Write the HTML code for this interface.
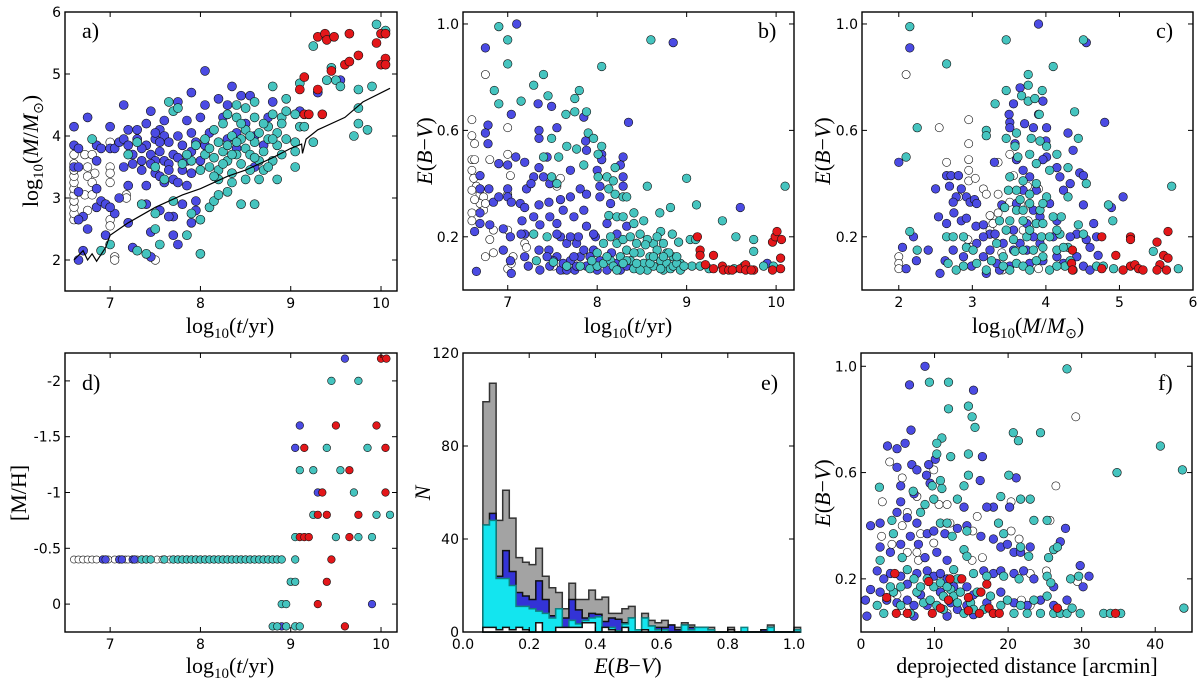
<!DOCTYPE html>
<html><head><meta charset="utf-8"><style>
html,body{margin:0;padding:0;background:#fff}
svg{display:block}
.tk{font-family:"DejaVu Sans","Liberation Sans",sans-serif;font-size:14px;fill:#000}
.ttl{font-family:"Liberation Serif",serif;font-size:22px;fill:#000}
.lt{font-family:"Liberation Serif",serif;font-size:22px;fill:#000}
</style></head><body>
<svg id="chart" width="1200" height="683" viewBox="0 0 1200 683" xmlns="http://www.w3.org/2000/svg"></svg>
<script>
// ---------- DATA ----------
const aWhite=[[6.6,2.65],[6.6,2.75],[6.6,2.85],[6.6,2.95],[6.6,3.05],[6.6,3.15],[6.6,3.25],[6.6,3.35],[6.6,3.45],[6.6,3.55],[6.6,3.7],[6.72,3.7],[6.8,3.7],[6.75,3.5],[6.83,3.4],[6.75,3.35],[6.8,3.25],[6.72,3.05],[6.8,3.05],[7.0,3.9],[7.0,3.5],[7.0,3.4],[7.0,3.25],[7.18,3.05],[7.18,3.0],[7.0,2.65],[7.0,2.55],[7.05,2.05],[7.05,2.0],[7.5,2.0],[6.75,2.8]];
const aBlue=[[6.6,4.15],[6.6,3.85],[6.65,3.8],[6.6,3.5],[6.65,3.5],[6.65,3.1],[6.7,2.7],[6.65,2.65],[6.75,2.5],[6.75,4.3],[6.85,3.85],[6.85,3.6],[6.9,3.8],[6.85,3.15],[6.85,2.85],[6.9,2.95],[6.95,2.9],[6.95,2.4],[6.7,2.15],[6.65,2.0],[7.0,4.15],[7.0,3.8],[7.05,3.8],[7.1,3.9],[7.15,4.5],[7.15,3.95],[7.15,3.5],[7.1,3.0],[7.05,2.75],[7.0,2.85],[7.2,4.1],[7.2,3.85],[7.25,3.7],[7.25,3.55],[7.2,3.2],[7.3,3.95],[7.3,4.1],[7.35,3.6],[7.35,3.45],[7.4,3.85],[7.4,3.2],[7.4,2.9],[7.4,4.2],[7.45,4.4],[7.45,3.7],[7.5,3.95],[7.5,3.6],[7.5,3.4],[7.55,4.1],[7.55,3.75],[7.55,3.35],[7.6,4.0],[7.6,3.6],[7.6,3.25],[7.6,4.25],[7.65,3.9],[7.65,3.55],[7.7,3.7],[7.7,3.3],[7.7,2.7],[7.75,4.55],[7.75,4.0],[7.75,3.65],[7.75,3.25],[7.8,3.85],[7.8,3.45],[7.8,2.9],[7.85,4.25],[7.85,3.6],[7.85,3.2],[7.9,4.7],[7.9,4.05],[7.9,3.75],[7.9,3.4],[7.95,3.9],[7.95,2.95],[8.0,4.3],[8.0,3.6],[8.05,5.05],[8.05,4.5],[8.05,3.85],[8.1,4.05],[8.2,4.6],[8.25,4.3],[8.3,4.5],[8.3,3.95],[8.35,4.8],[8.4,4.05],[8.4,3.8],[8.45,4.65],[8.5,4.2],[8.55,4.65],[8.6,4.0],[8.6,3.5],[8.7,3.85],[8.75,4.3],[8.8,4.55],[7.2,2.6],[7.25,2.2],[7.45,2.45],[7.45,2.05],[7.7,2.4],[7.75,2.25],[7.65,2.7],[7.9,2.6],[7.55,2.8],[7.95,2.8],[9.1,4.4],[9.55,4.9],[9.3,4.7],[7.5,4.05],[7.35,3.8],[7.45,3.55],[7.65,3.45],[7.55,3.9]];
const aCyan=[[6.8,3.95],[7.0,2.25],[6.9,2.15],[7.3,2.15],[7.4,2.1],[7.35,2.9],[7.5,2.75],[7.5,2.5],[7.55,2.25],[7.7,2.95],[7.85,2.4],[7.9,2.75],[8.0,2.65],[8.0,2.1],[8.1,2.85],[8.15,2.95],[8.2,3.05],[8.3,3.1],[8.45,2.9],[8.6,2.9],[8.85,3.3],[9.05,3.5],[9.05,3.75],[9.05,3.9],[9.1,4.15],[9.15,4.15],[9.25,3.9],[9.1,4.85],[9.25,5.45],[9.4,4.9],[9.45,5.1],[9.5,4.9],[9.55,4.8],[9.7,4.0],[9.75,4.2],[9.75,4.45],[9.75,4.75],[9.85,4.1],[9.9,4.8],[9.95,5.8],[10.05,5.7],[7.65,4.55],[7.7,4.4],[7.75,4.45],[8.8,4.8],[8.95,4.6],[9.05,4.35],[8.9,4.3],[7.3,3.9],[7.5,3.5],[7.6,3.3],[7.8,3.55],[7.2,3.7],[8.05,3.7],[8.05,3.95],[8.1,3.5],[8.1,3.8],[8.15,4.1],[8.15,3.65],[8.2,3.9],[8.2,3.45],[8.25,3.75],[8.25,4.2],[8.3,3.6],[8.3,3.85],[8.35,3.4],[8.35,4.0],[8.4,3.7],[8.4,4.3],[8.45,3.55],[8.45,3.95],[8.5,3.8],[8.5,4.1],[8.55,3.45],[8.55,3.7],[8.6,3.9],[8.6,4.3],[8.65,3.6],[8.65,4.05],[8.7,3.75],[8.7,3.45],[8.75,3.95],[8.75,4.15],[8.8,3.6],[8.8,4.35],[8.85,3.85],[8.85,4.05],[8.9,3.7],[8.9,4.2],[8.5,3.3],[8.35,3.25],[8.2,3.3],[8.6,4.55],[8.5,4.45],[8.4,4.5],[8.3,4.35],[8.95,3.95],[8.95,4.4],[8.65,3.3],[8.75,3.5],[8.15,3.35],[7.9,3.6],[7.95,3.85],[8.0,3.45],[7.85,3.7],[8.45,4.2],[8.55,4.0],[8.7,4.2],[8.8,3.95],[8.25,3.55],[8.35,3.7],[8.6,3.65],[8.4,3.9]];
const aRed=[[9.3,5.6],[9.38,5.65],[9.4,5.55],[9.48,5.6],[9.65,5.65],[10.0,5.65],[10.05,5.65],[9.95,5.5],[9.6,5.15],[9.65,5.2],[9.75,5.3],[10.05,5.25],[10.0,5.15],[10.05,5.15],[9.45,5.05],[9.15,4.95],[9.1,4.75],[9.3,4.75],[9.15,4.35],[9.2,4.35],[9.35,4.35]];
const limitAge=[6.6,6.7,6.75,6.8,6.85,6.95,7.0,7.2,7.5,7.8,8.0,8.3,8.5,8.8,9.0,9.12,9.13,9.17,9.3,9.6,9.8,10.1];
const limitMass=[2.0,2.15,2.0,2.1,1.98,2.2,2.4,2.6,2.85,3.05,3.15,3.35,3.45,3.65,3.8,3.87,3.72,3.95,4.1,4.3,4.55,4.77];
const bWhite=[[6.75,0.81],[6.6,0.64],[6.6,0.58],[6.63,0.55],[7.0,0.61],[7.0,0.51],[6.8,0.49],[6.6,0.49],[6.63,0.49],[6.6,0.45],[6.62,0.42],[7.03,0.43],[7.0,0.36],[6.65,0.39],[6.69,0.36],[6.73,0.35],[6.69,0.325],[6.73,0.3],[6.6,0.29],[6.6,0.26],[6.75,0.325],[6.84,0.225],[6.8,0.19],[6.75,0.125],[6.84,0.14],[7.0,0.08],[7.04,0.1],[7.06,0.125],[7.19,0.175],[7.21,0.16],[7.51,0.09],[7.62,0.075],[7.59,0.42],[7.55,0.39],[6.6,0.375],[6.63,0.34],[7.0,0.225]];
const bBlue=[[7.1,1.0],[6.75,0.91],[8.85,0.93],[8.35,0.63],[7.04,0.66],[7.34,0.7],[7.49,0.69],[7.55,0.61],[7.85,0.65],[7.35,0.6],[7.35,0.57],[6.78,0.62],[6.75,0.59],[6.78,0.55],[7.09,0.5],[7.19,0.48],[6.9,0.475],[7.0,0.47],[7.35,0.46],[7.44,0.5],[7.29,0.425],[7.4,0.425],[7.7,0.45],[7.87,0.56],[7.88,0.525],[8.0,0.45],[8.05,0.51],[8.05,0.49],[8.29,0.5],[8.26,0.47],[8.29,0.425],[8.29,0.39],[6.69,0.43],[6.69,0.38],[6.79,0.38],[6.84,0.33],[6.9,0.35],[7.0,0.38],[7.0,0.35],[7.04,0.33],[7.14,0.325],[7.19,0.31],[7.21,0.38],[7.26,0.4],[7.35,0.32],[7.46,0.33],[7.47,0.4],[7.59,0.34],[7.7,0.35],[7.81,0.38],[7.88,0.36],[8.03,0.39],[8.03,0.35],[8.15,0.325],[6.69,0.25],[6.69,0.29],[6.8,0.245],[6.63,0.22],[6.95,0.23],[7.16,0.26],[7.19,0.21],[7.29,0.275],[7.36,0.245],[7.47,0.275],[7.55,0.25],[7.62,0.3],[7.74,0.275],[7.85,0.3],[7.88,0.24],[8.11,0.25],[8.22,0.21],[8.33,0.24],[7.98,0.2],[7.03,0.2],[7.15,0.21],[6.95,0.15],[7.03,0.11],[7.19,0.125],[7.23,0.09],[7.35,0.15],[7.36,0.075],[7.46,0.15],[7.59,0.2],[7.66,0.175],[7.77,0.175],[7.47,0.09],[7.55,0.125],[7.59,0.075],[7.7,0.11],[7.75,0.075],[7.81,0.125],[7.88,0.09],[7.96,0.15],[8.03,0.11],[8.11,0.075],[8.16,0.14],[8.22,0.1],[8.26,0.075],[8.33,0.09],[7.04,0.0625],[6.65,0.07],[7.55,0.21],[7.7,0.2],[7.79,0.2],[7.96,0.21],[9.6,0.31],[9.9,0.1],[7.51,0.11],[7.62,0.1],[7.74,0.125],[7.85,0.15],[7.92,0.125],[8.0,0.075],[7.77,0.09],[7.66,0.075],[7.44,0.125]];
const bCyan=[[6.9,0.99],[7.0,0.94],[7.0,0.85],[7.4,0.81],[7.29,0.77],[7.15,0.71],[6.9,0.7],[6.85,0.75],[7.45,0.73],[7.8,0.75],[7.75,0.72],[7.75,0.67],[7.88,0.67],[7.65,0.66],[8.05,0.84],[8.6,0.94],[7.9,0.59],[7.96,0.57],[7.49,0.57],[7.66,0.54],[7.77,0.53],[8.05,0.54],[8.01,0.51],[7.57,0.5],[7.4,0.5],[7.85,0.47],[8.01,0.425],[8.11,0.425],[8.2,0.46],[8.18,0.41],[8.13,0.38],[8.2,0.36],[8.29,0.35],[8.33,0.35],[8.56,0.39],[9.0,0.42],[9.11,0.32],[8.82,0.31],[8.7,0.29],[8.41,0.29],[8.13,0.28],[8.22,0.275],[8.29,0.275],[8.41,0.25],[8.52,0.26],[8.71,0.22],[8.84,0.21],[8.91,0.18],[9.04,0.19],[9.1,0.19],[9.4,0.26],[9.55,0.2],[9.75,0.19],[9.75,0.145],[10.1,0.39],[9.86,0.09],[9.97,0.09],[9.64,0.09],[9.53,0.08],[9.06,0.09],[9.15,0.09],[9.25,0.08],[8.93,0.1],[8.85,0.125],[8.78,0.14],[8.63,0.175],[7.92,0.08],[8.0,0.09],[8.07,0.1],[8.15,0.11],[8.18,0.09],[8.26,0.125],[8.33,0.15],[8.37,0.11],[8.41,0.08],[8.44,0.175],[8.48,0.14],[8.52,0.1],[8.56,0.075],[8.59,0.125],[8.63,0.09],[8.67,0.15],[8.71,0.11],[8.74,0.075],[8.78,0.1],[8.82,0.08],[8.85,0.09],[8.89,0.1],[8.93,0.075],[8.97,0.09],[8.22,0.175],[8.29,0.19],[8.37,0.2],[8.48,0.21],[8.56,0.19],[8.67,0.2],[8.15,0.2],[8.07,0.175],[8.0,0.14],[7.94,0.11],[8.41,0.14],[8.54,0.17],[8.74,0.175],[8.8,0.14],[8.33,0.11],[8.48,0.075],[8.71,0.08],[7.49,0.425],[7.55,0.4],[7.29,0.21],[7.44,0.2],[7.32,0.11],[7.51,0.105],[7.66,0.09],[7.81,0.09],[8.22,0.075],[8.29,0.1],[8.44,0.1],[8.59,0.1],[8.11,0.125],[8.74,0.125],[8.63,0.125],[8.89,0.125]];
const bRed=[[9.12,0.2],[9.15,0.15],[9.15,0.13],[9.3,0.13],[9.21,0.095],[9.3,0.08],[9.4,0.09],[9.41,0.075],[9.47,0.075],[9.51,0.075],[9.6,0.08],[9.66,0.095],[9.66,0.075],[9.75,0.075],[9.96,0.075],[10.05,0.08],[10.05,0.12],[9.96,0.18],[9.99,0.2],[10.01,0.22],[10.06,0.19],[9.72,0.075]];
const cWhite=[[2.1,0.81],[2.55,0.61],[2.95,0.64],[2.65,0.48],[2.95,0.55],[2.95,0.49],[2.95,0.45],[2.95,0.41],[3.04,0.42],[2.81,0.35],[3.15,0.38],[3.19,0.36],[3.35,0.48],[3.35,0.36],[3.51,0.51],[3.56,0.43],[3.51,0.33],[3.24,0.28],[3.35,0.29],[3.24,0.225],[3.28,0.25],[3.75,0.39],[3.9,0.38],[3.76,0.32],[3.76,0.26],[2.0,0.125],[2.0,0.1],[2.0,0.08],[2.94,0.19],[2.99,0.16],[3.4,0.14],[3.69,0.225],[3.9,0.08],[3.41,0.075]];
const cBlue=[[2.15,0.91],[3.9,1.0],[4.55,0.93],[4.8,0.63],[2.0,0.48],[2.5,0.38],[2.65,0.43],[2.71,0.43],[2.81,0.43],[2.69,0.39],[2.85,0.38],[2.78,0.35],[2.74,0.33],[2.92,0.35],[2.97,0.33],[3.03,0.34],[3.06,0.325],[2.75,0.29],[2.54,0.275],[2.65,0.25],[2.85,0.26],[2.92,0.27],[3.05,0.24],[3.15,0.245],[3.24,0.21],[3.3,0.48],[3.4,0.32],[3.56,0.7],[3.5,0.66],[3.51,0.63],[3.51,0.61],[3.58,0.55],[3.65,0.76],[3.71,0.625],[3.83,0.61],[3.96,0.71],[3.9,0.66],[4.01,0.61],[4.0,0.56],[4.01,0.5],[4.15,0.46],[4.19,0.425],[4.24,0.375],[4.33,0.4],[4.3,0.59],[4.46,0.44],[4.51,0.43],[4.51,0.32],[4.65,0.25],[4.37,0.525],[5.05,0.35],[4.89,0.31],[4.42,0.21],[4.55,0.19],[4.6,0.16],[4.69,0.2],[4.71,0.13],[4.33,0.2],[4.15,0.26],[4.05,0.325],[3.92,0.275],[3.83,0.2],[3.74,0.25],[3.65,0.175],[3.56,0.225],[3.42,0.175],[3.24,0.15],[3.15,0.125],[3.06,0.175],[2.99,0.09],[2.88,0.125],[2.74,0.15],[2.63,0.11],[2.56,0.0625],[2.4,0.15],[2.24,0.11],[2.2,0.2],[2.05,0.16],[2.1,0.08],[3.19,0.0625],[3.37,0.075],[3.33,0.1],[3.51,0.09],[3.78,0.1],[3.96,0.11],[4.15,0.125],[4.24,0.1],[4.51,0.09],[4.42,0.125],[4.6,0.075],[3.87,0.375],[3.78,0.425],[3.69,0.45],[3.6,0.49],[3.96,0.49],[3.15,0.2],[3.31,0.21],[3.56,0.15],[3.74,0.15],[3.92,0.175],[4.1,0.2],[3.83,0.3],[3.6,0.325],[3.69,0.375]];
const cCyan=[[2.15,0.99],[2.65,0.85],[3.46,0.94],[4.1,0.84],[4.51,0.94],[2.25,0.61],[2.1,0.5],[3.31,0.7],[3.46,0.75],[3.76,0.81],[3.76,0.77],[3.67,0.73],[3.76,0.71],[3.85,0.72],[3.95,0.75],[3.91,0.66],[4.39,0.67],[4.44,0.57],[3.19,0.6],[3.19,0.58],[3.46,0.57],[3.6,0.59],[3.58,0.54],[3.8,0.57],[3.92,0.56],[4.01,0.54],[4.15,0.51],[3.62,0.5],[3.78,0.51],[3.87,0.475],[4.05,0.45],[4.3,0.46],[4.55,0.4],[4.3,0.35],[4.85,0.32],[4.91,0.26],[5.71,0.39],[2.15,0.22],[2.25,0.15],[2.65,0.2],[2.74,0.2],[2.67,0.1],[2.88,0.2],[2.78,0.075],[2.92,0.16],[3.01,0.15],[3.19,0.075],[3.26,0.11],[3.33,0.175],[3.37,0.26],[3.44,0.31],[3.46,0.225],[3.49,0.375],[3.58,0.145],[3.6,0.3],[3.65,0.34],[3.69,0.26],[3.74,0.2],[3.78,0.325],[3.83,0.15],[3.87,0.25],[3.92,0.3],[3.94,0.2],[3.96,0.125],[4.01,0.35],[4.05,0.2],[4.1,0.275],[4.15,0.15],[4.19,0.21],[4.21,0.275],[4.26,0.09],[4.3,0.16],[4.37,0.075],[4.44,0.245],[4.51,0.21],[4.69,0.09],[4.78,0.09],[4.92,0.08],[5.46,0.145],[5.8,0.08],[3.51,0.075],[3.6,0.1],[3.69,0.09],[3.78,0.075],[3.87,0.11],[3.69,0.15],[3.56,0.19],[3.42,0.125],[4.05,0.075],[4.15,0.09],[3.51,0.425],[3.69,0.41],[3.87,0.4],[3.6,0.375],[3.78,0.36],[3.96,0.325],[3.69,0.3],[3.51,0.26],[3.78,0.225],[3.96,0.25],[4.15,0.225],[3.96,0.16],[4.24,0.16],[4.33,0.11],[3.42,0.09],[3.06,0.1],[2.88,0.09]];
const cRed=[[4.36,0.15],[4.35,0.1],[4.36,0.075],[4.76,0.2],[4.76,0.08],[4.95,0.13],[5.15,0.2],[5.15,0.19],[5.05,0.075],[5.15,0.09],[5.21,0.095],[5.26,0.08],[5.32,0.075],[5.51,0.18],[5.6,0.13],[5.66,0.12],[5.66,0.22],[5.55,0.095],[5.51,0.075],[5.64,0.075]];
const dWhite=[[6.6,-0.4],[6.65,-0.4],[6.7,-0.4],[6.75,-0.4],[6.8,-0.4],[6.85,-0.4],[6.98,-0.4],[7.05,-0.4],[7.17,-0.4],[7.2,-0.4],[7.3,-0.4],[7.52,-0.4],[7.58,-0.4],[7.66,-0.4]];
const dBlue=[[6.92,-0.4],[6.95,-0.4],[7.1,-0.4],[7.13,-0.4],[7.25,-0.4],[7.27,-0.4],[9.6,-2.2],[9.1,-1.6],[9.05,-1.4],[9.3,-1.0],[9.9,0],[8.9,0.2]];
const dCyan=[[7.35,-0.4],[7.4,-0.4],[7.45,-0.4],[7.6,-0.4],[7.7,-0.4],[7.75,-0.4],[7.8,-0.4],[7.85,-0.4],[7.9,-0.4],[7.95,-0.4],[8.0,-0.4],[8.05,-0.4],[8.1,-0.4],[8.15,-0.4],[8.2,-0.4],[8.25,-0.4],[8.3,-0.4],[8.35,-0.4],[8.4,-0.4],[8.45,-0.4],[8.5,-0.4],[8.55,-0.4],[8.6,-0.4],[8.65,-0.4],[8.7,-0.4],[8.75,-0.4],[8.8,-0.4],[8.85,-0.4],[8.9,-0.4],[9.45,-2],[9.75,-2],[9.4,-1.4],[9.85,-1.4],[9.1,-1.2],[9.25,-1.2],[9.55,-1.2],[9.7,-1.0],[9.25,-0.8],[9.95,-0.8],[10.1,-0.8],[9.05,-0.6],[9.5,-0.6],[9.75,-0.6],[9.9,-0.6],[9.05,-0.4],[9.0,-0.2],[9.05,-0.2],[8.9,0],[8.95,0],[8.8,0.2],[8.85,0.2],[8.95,0.2],[9.05,0.2],[9.1,0.2]];
const dRed=[[10.0,-2.2],[10.06,-2.2],[9.5,-1.6],[9.95,-1.6],[9.15,-1.4],[10.05,-1.4],[9.65,-1.2],[9.35,-1.0],[10.05,-1.0],[9.3,-0.8],[9.4,-0.8],[9.75,-0.8],[9.1,-0.6],[9.15,-0.6],[9.2,-0.6],[9.65,-0.6],[9.45,-0.4],[9.4,-0.2],[9.3,0],[9.6,0.2]];
const binStart=0.06, binWidth=0.02;
const histAll=[99,107,48,61,49,32,30,29,36,24,19,17,10,21,14,14,18,14,15,8,8,10,11,1,8,5,4,5,3,2,4,3,2,2,2,0,0,2,0,0,0,0,1,3,0,0,0,2];
const histBlue=[46,51,24,35,26,17,15.5,14,22,14,7,10,6,14,9.5,6,8,7.6,4.5,6,5.5,4,6,1,6,2.6,2,2,3,1,3,2,2,2,1,0,0,1,0,0,0,0,1,2,0,0,0,1];
const histCyan=[46,48,23,23,20,11,11,10,9,8,6,10,2,5,3.5,5,6,6.5,2,2,0.5,3.5,6,1,6,2.6,1,1,0,0,3,1,2,2,1,0,0,0,0,2,0,0,0,2,0,0,0,1];
const histWhite=[2,2,1,2,1,2,1,0,4,0,0,2,2,2,2,4,4,0,2,1,0,2,0,0,1,0,0,0,0,0,0,0,0,0,0,0,0,1,0,0,0,0,0,0,0,0,0,0];
const fWhite=[[29.2,0.81],[3.9,0.64],[9.9,0.61],[5.6,0.58],[2.9,0.49],[7.6,0.51],[6.3,0.45],[10.6,0.48],[11.7,0.48],[15.8,0.435],[15.2,0.38],[12.1,0.41],[2.8,0.36],[5.6,0.4],[4.2,0.33],[8.1,0.37],[9.9,0.335],[6.3,0.3],[7.6,0.3],[7.8,0.27],[16.5,0.28],[20.4,0.49],[20.4,0.38],[21.5,0.35],[25.7,0.42],[26.5,0.55],[25.2,0.23],[29.4,0.19],[23.0,0.22],[23.0,0.1],[21.8,0.12],[19.9,0.12],[4.9,0.14],[5.6,0.08],[11.0,0.17],[11.7,0.07],[15.1,0.27]];
const fBlue=[[8.7,1.0],[6.6,0.93],[15.3,0.91],[6.8,0.76],[3.6,0.7],[4.9,0.69],[6.0,0.71],[16.5,0.66],[6.9,0.63],[7.6,0.61],[9.2,0.63],[10.1,0.65],[4.9,0.62],[8.9,0.59],[9.4,0.56],[5.4,0.55],[7.2,0.52],[5.4,0.49],[16.2,0.57],[21.1,0.58],[20.2,0.47],[18.0,0.47],[17.1,0.47],[14.0,0.47],[2.6,0.41],[1.3,0.4],[4.9,0.45],[6.3,0.43],[7.6,0.41],[9.0,0.37],[9.9,0.38],[11.4,0.37],[13.1,0.39],[14.4,0.4],[16.3,0.36],[18.0,0.35],[19.0,0.32],[19.9,0.33],[20.8,0.3],[21.7,0.3],[23.0,0.32],[27.1,0.34],[27.8,0.39],[2.6,0.32],[4.0,0.3],[5.4,0.33],[6.7,0.36],[7.8,0.33],[8.7,0.28],[10.3,0.3],[11.7,0.27],[2.2,0.23],[3.1,0.2],[4.0,0.22],[5.4,0.21],[6.3,0.18],[7.6,0.22],[9.0,0.23],[9.9,0.21],[10.8,0.22],[11.7,0.2],[12.6,0.17],[13.5,0.2],[14.4,0.17],[16.7,0.23],[18.0,0.22],[19.0,0.23],[20.8,0.22],[22.1,0.23],[23.5,0.2],[26.2,0.17],[29.8,0.25],[31.0,0.21],[30.2,0.17],[0.6,0.12],[0.8,0.06],[1.3,0.16],[2.6,0.15],[3.5,0.12],[4.9,0.11],[6.3,0.12],[7.2,0.1],[8.1,0.14],[9.0,0.1],[10.8,0.15],[12.2,0.11],[13.1,0.085],[14.4,0.1],[15.3,0.14],[17.1,0.11],[19.0,0.15],[20.8,0.11],[22.6,0.1],[24.4,0.12],[26.2,0.1],[28.0,0.12],[11.7,0.06],[15.3,0.065],[7.2,0.06]];
const fCyan=[[28.0,0.99],[9.3,0.94],[11.9,0.94],[11.9,0.84],[14.6,0.85],[15.1,0.81],[15.5,0.77],[20.7,0.75],[24.4,0.75],[21.4,0.72],[40.7,0.7],[43.7,0.61],[34.8,0.6],[11.0,0.73],[10.3,0.71],[10.3,0.67],[12.2,0.66],[14.6,0.67],[10.8,0.57],[9.7,0.55],[11.0,0.54],[14.6,0.59],[14.0,0.55],[20.1,0.59],[19.0,0.51],[21.7,0.5],[23.0,0.5],[23.5,0.42],[25.3,0.42],[26.2,0.31],[26.7,0.32],[2.5,0.545],[7.1,0.53],[9.9,0.5],[13.1,0.5],[4.2,0.42],[4.4,0.37],[8.1,0.45],[8.7,0.48],[10.8,0.41],[11.7,0.41],[12.4,0.36],[14.4,0.38],[18.7,0.41],[19.4,0.37],[21.7,0.32],[22.8,0.285],[25.5,0.28],[2.6,0.27],[5.6,0.28],[6.3,0.235],[14.0,0.31],[14.4,0.285],[12.6,0.235],[15.3,0.22],[17.1,0.21],[19.4,0.21],[21.5,0.2],[25.3,0.21],[25.8,0.185],[28.5,0.2],[29.6,0.21],[2.2,0.1],[3.1,0.07],[4.4,0.15],[5.4,0.1],[6.7,0.07],[7.6,0.15],[8.5,0.11],[9.4,0.12],[10.3,0.1],[11.2,0.135],[11.2,0.085],[12.2,0.16],[12.6,0.135],[13.1,0.11],[13.5,0.15],[14.0,0.07],[14.9,0.11],[15.3,0.085],[15.8,0.15],[16.7,0.085],[17.6,0.135],[18.0,0.07],[19.0,0.1],[19.9,0.12],[20.8,0.07],[21.7,0.1],[22.6,0.07],[23.5,0.12],[24.4,0.07],[25.3,0.135],[26.2,0.07],[27.1,0.07],[28.0,0.07],[28.7,0.09],[29.8,0.07],[33.0,0.07],[33.9,0.07],[35.3,0.07],[43.9,0.09],[9.9,0.17],[10.8,0.185],[11.7,0.17],[13.1,0.2],[9.0,0.2],[8.1,0.17],[7.2,0.2],[5.4,0.17],[4.0,0.17]];
const fRed=[[4.6,0.22],[3.5,0.13],[4.8,0.07],[6.3,0.07],[9.2,0.19],[9.7,0.07],[10.8,0.09],[12.1,0.2],[11.9,0.12],[13.7,0.2],[14.6,0.13],[14.6,0.08],[16.1,0.07],[16.3,0.15],[17.1,0.18],[17.4,0.09],[18.0,0.07],[18.8,0.07],[26.7,0.09],[34.6,0.07]];
const ageTicks=[7,8,9,10];
const massTicks=[2,3,4,5,6];
const ebvTicks=[0.2,0.6,1.0];
const ebvTickLabels=["0.2","0.6","1.0"];
const cMassTicks=[2,3,4,5,6];
const mhTicks=[-2,-1.5,-1,-0.5,0];
const mhTickLabels=["-2","-1.5","-1","-0.5","0"];
const eXTicks=[0,0.2,0.4,0.6,0.8,1.0];
const eXTickLabels=["0.0","0.2","0.4","0.6","0.8","1.0"];
const eYTicks=[0,40,80,120];
const fXTicks=[0,10,20,30,40];

// ---------- RENDER ----------
const NS="http://www.w3.org/2000/svg";
const svg=document.getElementById('chart');
function mk(tag,parent){const e=document.createElementNS(NS,tag);parent.appendChild(e);return e;}
const COL={white:'#ffffff',blue:'#4b4be3',cyan:'#45c4bf',red:'#e3171a'};

function makePanel(name,px0,px1,py0,py1,xd0,xd1,yd0,yd1){
  const g=mk('g',svg);
  
  
  return {g,px0,px1,py0,py1,
    sx:v=>px0+(v-xd0)/(xd1-xd0)*(px1-px0),
    sy:v=>py1-(v-yd0)/(yd1-yd0)*(py1-py0)};
}
function frame(P){
  const r=mk('rect',P.g);
  
  
  r.setAttribute('x',P.px0);r.setAttribute('y',P.py0);
  r.setAttribute('width',P.px1-P.px0);r.setAttribute('height',P.py1-P.py0);
  r.setAttribute('fill','none');r.setAttribute('stroke','#000');r.setAttribute('stroke-width','1.4');
}
function xTicks(P,vals,labels){
  vals.forEach((v,i)=>{
    const x=P.sx(v);
    [[P.py1,P.py1-5],[P.py0,P.py0+5]].forEach(s=>{
      const l=mk('line',P.g);
      
      
      l.setAttribute('x1',x);l.setAttribute('x2',x);l.setAttribute('y1',s[0]);l.setAttribute('y2',s[1]);
      l.setAttribute('stroke','#000');l.setAttribute('stroke-width','1');
    });
    const t=mk('text',P.g);
    
    
    t.setAttribute('class','tk');t.setAttribute('x',x);t.setAttribute('y',P.py1+17);
    t.setAttribute('text-anchor','middle');
    t.textContent=labels?labels[i]:String(v);
  });
}
function yTicks(P,vals,labels){
  vals.forEach((v,i)=>{
    const y=P.sy(v);
    [[P.px0,P.px0+5],[P.px1,P.px1-5]].forEach(s=>{
      const l=mk('line',P.g);
      
      
      l.setAttribute('x1',s[0]);l.setAttribute('x2',s[1]);l.setAttribute('y1',y);l.setAttribute('y2',y);
      l.setAttribute('stroke','#000');l.setAttribute('stroke-width','1');
    });
    const t=mk('text',P.g);
    
    
    t.setAttribute('class','tk');t.setAttribute('x',P.px0-4);t.setAttribute('y',y+5);
    t.setAttribute('text-anchor','end');
    t.textContent=labels?labels[i]:String(v);
  });
}
function scatter(P,pts,color,name,r){
  pts.forEach(p=>{
    const c=mk('circle',P.g);
    
    
    c.setAttribute('cx',P.sx(p[0]).toFixed(1));c.setAttribute('cy',P.sy(p[1]).toFixed(1));
    c.setAttribute('r',r);c.setAttribute('fill',COL[color]);
    c.setAttribute('stroke','#111');c.setAttribute('stroke-width','0.6');
  });
}
function label(P,txt,x,y,name){
  const t=mk('text',P.g);
  
  
  t.setAttribute('class','lt');t.setAttribute('x',x);t.setAttribute('y',y);
  t.textContent=txt;
}
function title(P,html,x,y,rot,name){
  const t=mk('text',P.g);
  
  
  t.setAttribute('class','ttl');t.setAttribute('text-anchor','middle');
  t.setAttribute('x',x);t.setAttribute('y',y);
  if(rot)t.setAttribute('transform','rotate(-90 '+x+' '+y+')');
  t.innerHTML=html;
}
const LOG='log<tspan font-size="15" dy="5">10</tspan><tspan dy="-5">';
const TYR=LOG+'(<tspan font-style="italic">t</tspan>/yr)</tspan>';
const EBV='<tspan font-style="italic">E</tspan>(<tspan font-style="italic">B</tspan>−<tspan font-style="italic">V</tspan>)';
const MASS=LOG+'(<tspan font-style="italic">M</tspan>/<tspan font-style="italic">M</tspan><tspan font-size="14" dy="5">⊙</tspan><tspan dy="-5">)</tspan></tspan>';

const A=makePanel('panel-a-mass-vs-age',65,397,12,291,6.5,10.177,1.5,6);
scatter(A,aWhite,'white','young-cluster-point',4.3);
scatter(A,aBlue,'blue','cluster-point-blue',4.5);
scatter(A,aCyan,'cyan','cluster-point-cyan',4.5);
scatter(A,aRed,'red','old-cluster-point',4.5);
(function(){const pl=mk('polyline',A.g);


pl.setAttribute('points',limitAge.map((v,i)=>A.sx(v).toFixed(1)+','+A.sy(limitMass[i]).toFixed(1)).join(' '));
pl.setAttribute('fill','none');pl.setAttribute('stroke','#000');pl.setAttribute('stroke-width','1.2');})();
frame(A);xTicks(A,ageTicks);yTicks(A,massTicks);
label(A,'a)',82,38,'panel-label-a');
title(A,TYR,230,333,false,'x-axis-title');
title(A,MASS,38,151,true,'y-axis-title');

const B=makePanel('panel-b-ebv-vs-age',463,794,12,290,6.5,10.2,0,1.045);
scatter(B,bWhite,'white','young-cluster-point',4.1);
scatter(B,bBlue,'blue','cluster-point-blue',4.3);
scatter(B,bCyan,'cyan','cluster-point-cyan',4.3);
scatter(B,bRed,'red','old-cluster-point',4.3);
frame(B);xTicks(B,ageTicks);yTicks(B,ebvTicks,ebvTickLabels);
label(B,'b)',758,38,'panel-label-b');
title(B,TYR,628,333,false,'x-axis-title');
title(B,EBV,432,151,true,'y-axis-title');

const C=makePanel('panel-c-ebv-vs-mass',862,1193,12,290,1.5,6,0,1.045);
scatter(C,cWhite,'white','young-cluster-point',4.1);
scatter(C,cBlue,'blue','cluster-point-blue',4.3);
scatter(C,cCyan,'cyan','cluster-point-cyan',4.3);
scatter(C,cRed,'red','old-cluster-point',4.3);
frame(C);xTicks(C,cMassTicks);yTicks(C,ebvTicks,ebvTickLabels);
label(C,'c)',1156,38,'panel-label-c');
title(C,MASS,1028,333,false,'x-axis-title');
title(C,EBV,830,151,true,'y-axis-title');

const D=makePanel('panel-d-metallicity-vs-age',65,397,353,632,6.5,10.177,0.25,-2.25);
scatter(D,dWhite,'white','young-cluster-point',3.6);
scatter(D,dBlue,'blue','cluster-point-blue',3.8);
scatter(D,dCyan,'cyan','cluster-point-cyan',3.8);
scatter(D,dRed,'red','old-cluster-point',3.8);
frame(D);xTicks(D,ageTicks);yTicks(D,mhTicks,mhTickLabels);
label(D,'d)',82,390,'panel-label-d');
title(D,TYR,230,673,false,'x-axis-title');
title(D,'[M/H]',26,493,true,'y-axis-title');

const E=makePanel('panel-e-ebv-histogram',463,794,353,632,0,1,0,120);
function hist(arr,fill,stroke,name){
  let d='M'+E.sx(binStart).toFixed(1)+','+E.sy(0).toFixed(1);
  arr.forEach((v,i)=>{
    const xa=E.sx(binStart+i*binWidth),xb=E.sx(binStart+(i+1)*binWidth),y=E.sy(v);
    d+=' L'+xa.toFixed(1)+','+y.toFixed(1)+' L'+xb.toFixed(1)+','+y.toFixed(1);
  });
  d+=' L'+E.sx(binStart+arr.length*binWidth).toFixed(1)+','+E.sy(0).toFixed(1)+' Z';
  const p=mk('path',E.g);
  
  
  p.setAttribute('d',d);p.setAttribute('fill',fill);p.setAttribute('stroke',stroke);p.setAttribute('stroke-width','1.5');
}
hist(histAll,'#a3a3a3','#333','histogram-all');
hist(histBlue,'#3333d6','#111','histogram-blue');
hist(histCyan,'#13e5ef','#108080','histogram-cyan');
hist(histWhite,'#ffffff','#111','histogram-white');
frame(E);xTicks(E,eXTicks,eXTickLabels);yTicks(E,eYTicks);
label(E,'e)',761,390,'panel-label-e');
title(E,EBV,628,673,false,'x-axis-title');
title(E,'<tspan font-style="italic">N</tspan>',430,493,true,'y-axis-title');

const F=makePanel('panel-f-ebv-vs-distance',861,1192,353,632,0,45,0,1.05);
scatter(F,fWhite,'white','young-cluster-point',4.1);
scatter(F,fBlue,'blue','cluster-point-blue',4.3);
scatter(F,fCyan,'cyan','cluster-point-cyan',4.3);
scatter(F,fRed,'red','old-cluster-point',4.3);
frame(F);xTicks(F,fXTicks);yTicks(F,ebvTicks,ebvTickLabels);
label(F,'f)',1158,390,'panel-label-f');
title(F,'deprojected distance [arcmin]',1027,673,false,'x-axis-title');
title(F,EBV,830,493,true,'y-axis-title');
</script>
</body></html>
